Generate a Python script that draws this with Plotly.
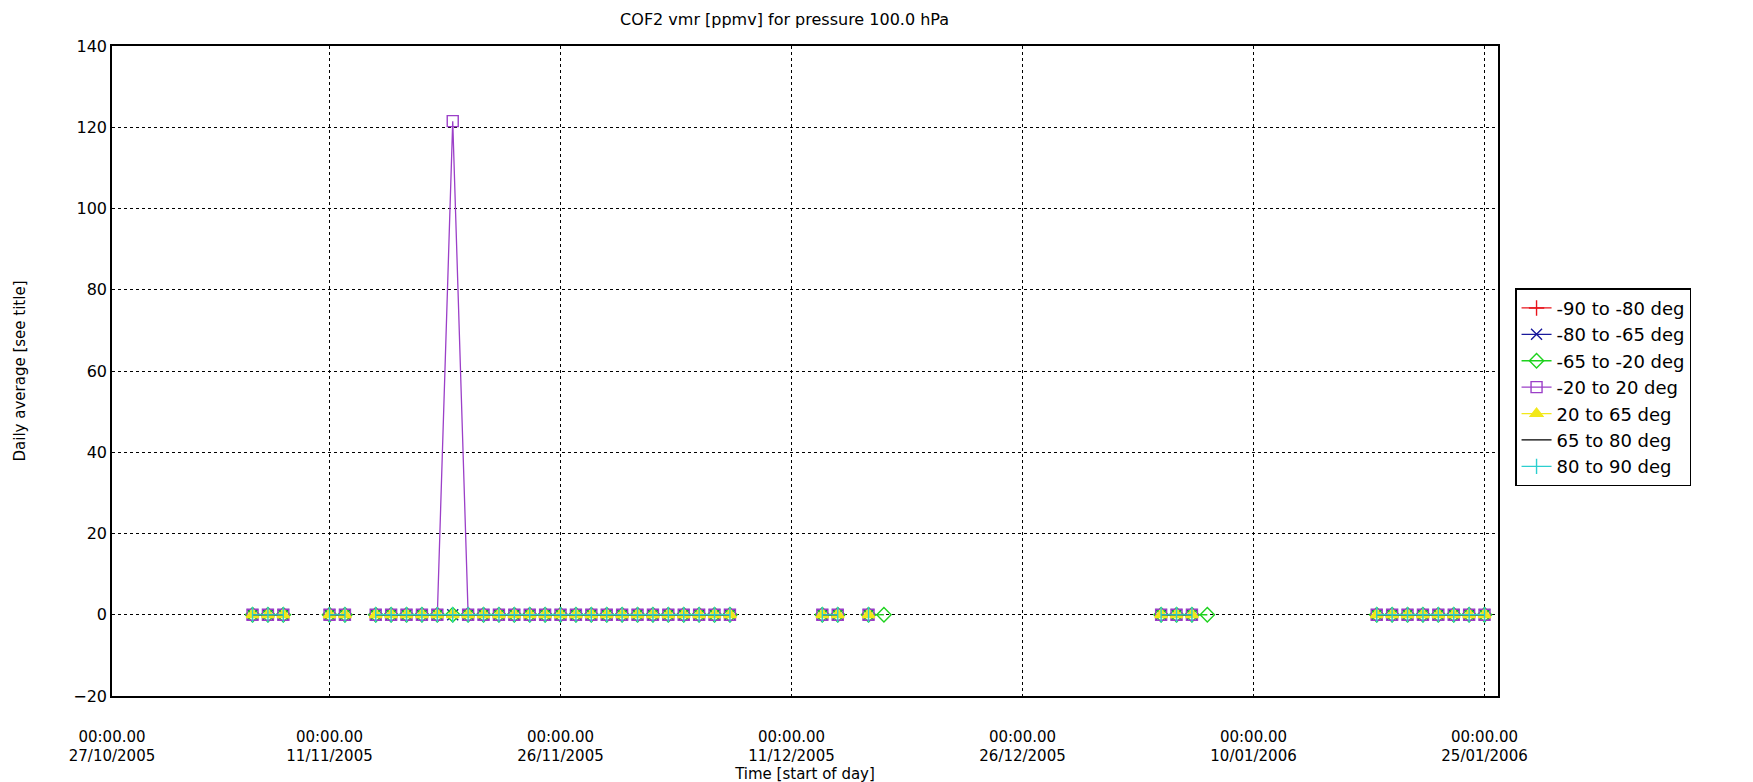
import plotly.graph_objects as go
import pandas as pd

# ---------------- data ----------------
dates_main = [
    "2005-11-06", "2005-11-07", "2005-11-08",
    "2005-11-11", "2005-11-12",
    "2005-11-14", "2005-11-15", "2005-11-16", "2005-11-17", "2005-11-18",
    "2005-11-19", "2005-11-20", "2005-11-21", "2005-11-22", "2005-11-23",
    "2005-11-24", "2005-11-25", "2005-11-26", "2005-11-27", "2005-11-28",
    "2005-11-29", "2005-11-30", "2005-12-01", "2005-12-02", "2005-12-03",
    "2005-12-04", "2005-12-05", "2005-12-06", "2005-12-07",
    "2005-12-13", "2005-12-14", "2005-12-16",
    "2006-01-04", "2006-01-05", "2006-01-06",
    "2006-01-18", "2006-01-19", "2006-01-20", "2006-01-21", "2006-01-22",
    "2006-01-23", "2006-01-24", "2006-01-25",
]
dates_green = sorted(dates_main + ["2005-12-17", "2006-01-07"])

zeros_main = [0.0] * len(dates_main)
zeros_green = [0.0] * len(dates_green)
vals_tropics = [121.5 if d == "2005-11-19" else 0.0 for d in dates_main]

series_names = ["-90 to -80 deg", "-80 to -65 deg", "-65 to -20 deg",
                "-20 to 20 deg", "20 to 65 deg", "65 to 80 deg", "80 to 90 deg"]
series_dates = [[], dates_main, dates_green, dates_main, dates_main, dates_main, dates_main]
series_vals = [[], zeros_main, zeros_green, vals_tropics, zeros_main, zeros_main, zeros_main]

tick_dates = ["2005-10-27 21:00", "2005-11-11", "2005-11-26", "2005-12-11",
              "2005-12-26", "2006-01-10", "2006-01-25"]
tick_text = ["00:00.00<br>27/10/2005", "00:00.00<br>11/11/2005", "00:00.00<br>26/11/2005",
             "00:00.00<br>11/12/2005", "00:00.00<br>26/12/2005", "00:00.00<br>10/01/2006",
             "00:00.00<br>25/01/2006"]

# ---------------- style ----------------
colors = ["#e8141c", "#1a1a9c", "#1ed21e", "#9b3fc8", "#f2e81a", "#000000", "#2ccfcf"]
symbols = ["cross-thin-open", "x-thin-open", "diamond-open", "square-open",
           "triangle-up", None, "line-ns-open"]


def with_gaps(dates, vals):
    xs, ys = [], []
    prev = None
    for d, v in zip(dates, vals):
        t = pd.Timestamp(d)
        if prev is not None and (t - prev).days > 1:
            xs.append(None)
            ys.append(None)
        xs.append(d)
        ys.append(v)
        prev = t
    return xs, ys


fig = go.Figure()
for name, d, v, c, s in zip(series_names, series_dates, series_vals, colors, symbols):
    xs, ys = with_gaps(d, v)
    if s is None:
        mode = "lines"
        marker = None
    else:
        mode = "lines+markers"
        marker = dict(symbol=s, size=11, color=c, line=dict(color=c, width=1.4))
    fig.add_trace(go.Scatter(
        x=xs if xs else [None], y=ys if ys else [None], name=name, mode=mode,
        line=dict(color=c, width=1.3), marker=marker, connectgaps=False,
    ))

fontfam = "DejaVu Sans, Arial, sans-serif"
fig.update_layout(
    width=1753, height=782,
    paper_bgcolor="white", plot_bgcolor="white",
    margin=dict(l=104, r=263, t=38, b=94, autoexpand=False),
    font=dict(family=fontfam, size=15, color="black"),
    title=dict(text="COF2 vmr [ppmv] for pressure 100.0 hPa", x=0.443, xanchor="center",
               y=0.985, yanchor="middle", font=dict(size=16)),
    showlegend=True,
    legend=dict(x=1.0123, xanchor="left", y=0.475, yanchor="middle",
                bordercolor="black", borderwidth=1.5, bgcolor="white",
                font=dict(size=18), tracegroupgap=0, itemwidth=30),
)
fig.update_xaxes(
    type="date", range=["2005-10-27 21:00", "2006-01-25 21:00"],
    tickvals=tick_dates, ticktext=tick_text, ticks="", automargin=False,
    showgrid=True, gridcolor="black", griddash="3px,3px", gridwidth=1.4,
    showline=True, linecolor="black", linewidth=1.5, mirror=True,
    zeroline=False, tickangle=0, tickfont=dict(size=15), ticklabelstandoff=26,
    title=dict(text="Time [start of day]", standoff=0, font=dict(size=15)),
)
fig.update_yaxes(
    range=[-20, 140], tickvals=[-20, 0, 20, 40, 60, 80, 100, 120, 140], ticks="",
    automargin=False,
    showgrid=True, gridcolor="black", griddash="3px,3px", gridwidth=1.4,
    showline=True, linecolor="black", linewidth=1.5, mirror=True,
    zeroline=False, tickfont=dict(size=16),
    title=dict(text="Daily average [see title]", standoff=44, font=dict(size=15)),
)
fig.write_html("out.html")
